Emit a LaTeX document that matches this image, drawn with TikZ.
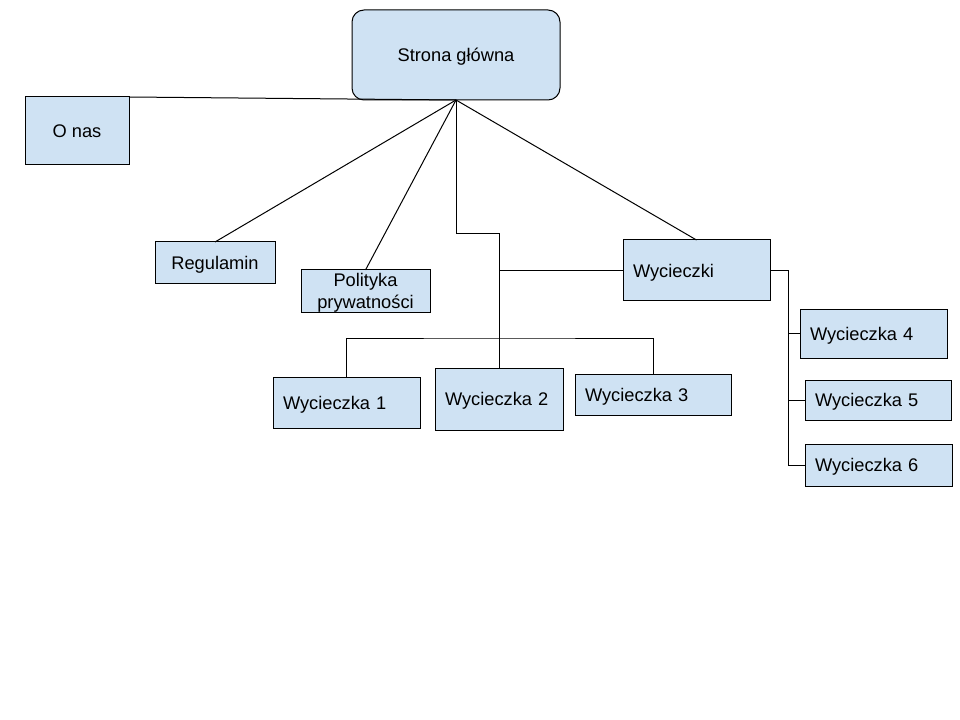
\documentclass[tikz,border=0pt]{standalone}
\usepackage{fontspec}
\setmainfont{Liberation Sans}
\usepackage{tikz}
\usetikzlibrary{calc,positioning}
\definecolor{niebieski}{HTML}{CFE2F3}
\tikzset{
	mapa/.style={
		x=0.75pt, y=-0.75pt,
		line width=0.75pt,
		every node/.style={font=\fontsize{13.7}{16.5}\selectfont},
		lacz/.style={draw, line width=0.75pt}},
	box/.style 2 args={draw, fill=niebieski, line width=0.75pt,
		minimum width=#1*0.75pt, minimum height=#2*0.75pt,
		inner sep=0pt, outer sep=0pt, text depth=0pt, align=center},
	lbox/.code 2 args={
		\pgfmathsetlengthmacro{\lboxw}{(#1-20)*0.75pt}
		\pgfkeysalso{box={#1}{#2}, inner xsep=7.5pt, text width=\lboxw, align=left}
	},
	glowna/.style={rounded corners=9pt}
}

\begin{document}
\begin{tikzpicture}[mapa]
   \useasboundingbox (0,0) rectangle (960,720);
   \node[box={208}{90}, glowna] (strona) at (456,55) {Strona główna};
   \node[box={104}{68}] (onas) at (77,131) {O nas};
   \node[box={120}{42}] (regulamin) at (215,263) {Regulamin};
   \node[box={129}{42}] (polityka) at (365.5,291) {Polityka\\prywatności};
   \node[lbox={147}{61}] (wycieczki) at (696.5,270.5) {Wycieczki};
   \node[lbox={147}{51}] (w1) at (346.5,402.5) {Wycieczka 1};
   \node[lbox={128}{62}] (w2) at (499,399) {Wycieczka 2};
   \node[lbox={156}{41}] (w3) at (653,394.5) {Wycieczka 3};
   \node[lbox={147}{49}] (w4) at (873.5,333.5) {Wycieczka 4};
   \node[lbox={146}{40}] (w5) at (878,400) {Wycieczka 5};
   \node[lbox={147}{42}] (w6) at (878.5,465) {Wycieczka 6};
   \coordinate (kolano) at (499,234);
   \coordinate (szyna) at (499,338);
   \coordinate (pion) at (788,270.5);
   \draw[lacz] (onas.north east) -- (strona.south);
   \draw[lacz] (regulamin.north) -- (strona.south);
   \draw[lacz] (polityka.north) -- (strona.south);
   \draw[lacz] (wycieczki.north) -- (strona.south);
   \draw[lacz] (strona.south) |- (kolano) -- (w2.north);
   \draw[lacz] (wycieczki.west) -- (wycieczki.west -| w2.north);
   \draw[lacz] (w1.north) |- (szyna) -| (w3.north);
   \draw[lacz] (wycieczki.east) -- (pion) |- (w4.west);
   \draw[lacz] (pion) |- (w5.west);
   \draw[lacz] (pion) |- (w6.west);
\end{tikzpicture}
\end{document}
